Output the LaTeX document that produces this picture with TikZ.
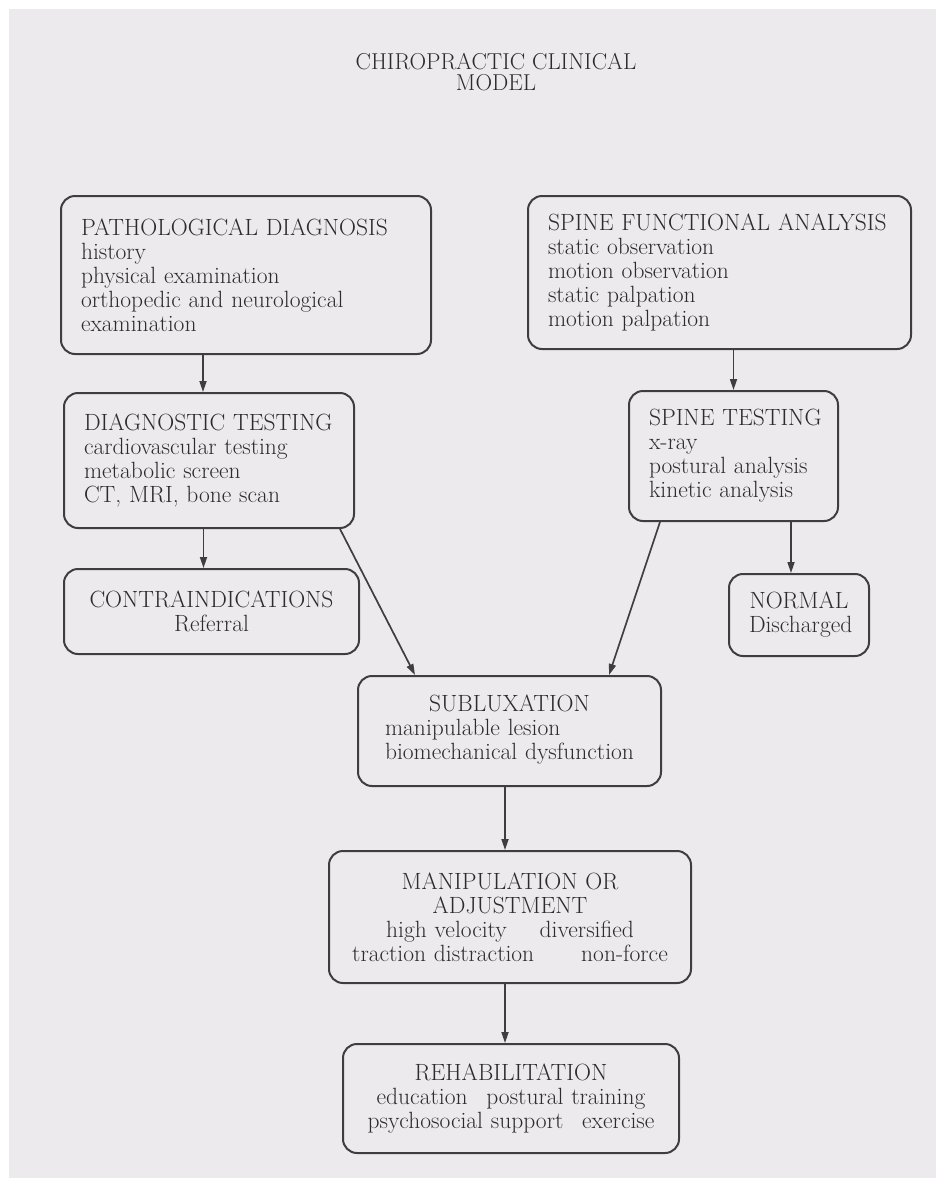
\documentclass[tikz,border=0pt]{standalone}
\usepackage{xcolor}
\usepackage{tikz}
\usetikzlibrary{arrows.meta,positioning}
\definecolor{ModelPaper}{HTML}{ECEAEC}
\definecolor{ModelInk}{HTML}{2C2B2D}
\definecolor{ModelLine}{HTML}{3E3D3F}

\begin{document}
\begin{tikzpicture}[x=1pt,y=-1pt,
  font=\fontsize{23.5}{24}\selectfont,text=ModelInk,
  box/.style={draw=ModelLine,line width=2pt,rounded corners=14pt,
    inner xsep=20pt,inner ysep=4pt,anchor=north west},
  lbox/.style={box,align=left},
  cbox/.style={box,align=center},
  arr/.style={draw=ModelLine,line width=1.7pt,-{Triangle[length=11pt,width=7pt]}}]
  \useasboundingbox (0,0) rectangle (936,1178);
  \fill[white] (0,0) rectangle (936,1178);
  \fill[ModelPaper] (9,9) rectangle (936,1178);

  \node[align=center,font=\fontsize{23}{21}\selectfont] (ttl) at (496,72)
    {CHIROPRACTIC CLINICAL\\MODEL};

  \node[lbox,text width=330pt,minimum height=158pt] (pd) at (60,195)
    {PATHOLOGICAL DIAGNOSIS\\history\\physical examination\\
     orthopedic and neurological\\examination};
  \node[lbox,text width=250pt,minimum height=135pt] (dt) at (63,392)
    {DIAGNOSTIC TESTING\\cardiovascular testing\\metabolic screen\\
     CT, MRI, bone scan};
  \node[cbox,text width=255pt,minimum height=85pt] (ci) at (63,568)
    {CONTRAINDICATIONS\\Referral};

  \node[lbox,text width=343pt,minimum height=153pt] (sfa) at (527,195)
    {SPINE FUNCTIONAL ANALYSIS\\static observation\\motion observation\\
     static palpation\\motion palpation};
  \node[lbox,text width=169pt,minimum height=130pt] (st) at (628,390)
    {\mbox{SPINE TESTING}\\x-ray\\postural analysis\\kinetic analysis};
  \node[cbox,text width=100pt,minimum height=82pt] (nrm) at (728,573)
    {NORMAL\\Discharged};

  \node[cbox,text width=263pt,minimum height=110pt] (sub) at (357,675)
    {SUBLUXATION\\
     \begin{tabular}[t]{@{}l@{}}manipulable lesion\\biomechanical dysfunction\end{tabular}};
  \node[cbox,text width=322pt,minimum height=132pt] (man) at (328,850)
    {MANIPULATION OR\\ADJUSTMENT\\
     high velocity\hspace{1.4em}diversified\\
     traction distraction\hspace{2em}non-force};
  \node[cbox,text width=296pt,minimum height=109pt] (reh) at (342,1043)
    {REHABILITATION\\education\hspace{0.8em}postural training\\
     psychosocial support\hspace{0.8em}exercise};

  \draw[arr] ([xshift=-6pt]dt.north |- pd.south) -- ([xshift=-6pt]dt.north);
  \draw[arr] ([xshift=-8pt]ci.north |- dt.south) -- ([xshift=-8pt]ci.north);
  \draw[arr] (st.north |- sfa.south) -- (st.north);
  \draw[arr] ([xshift=-8pt]nrm.north |- st.south) -- ([xshift=-8pt]nrm.north);
  \draw[arr] ([xshift=-15pt]dt.south east) -- ([xshift=58pt]sub.north west);
  \draw[arr] ([xshift=32pt]st.south west) -- ([xshift=-53pt]sub.north east);
  \draw[arr] ([xshift=-5pt]man.north |- sub.south) -- ([xshift=-5pt]man.north);
  \draw[arr] ([xshift=-6pt]reh.north |- man.south) -- ([xshift=-6pt]reh.north);
\end{tikzpicture}
\end{document}
